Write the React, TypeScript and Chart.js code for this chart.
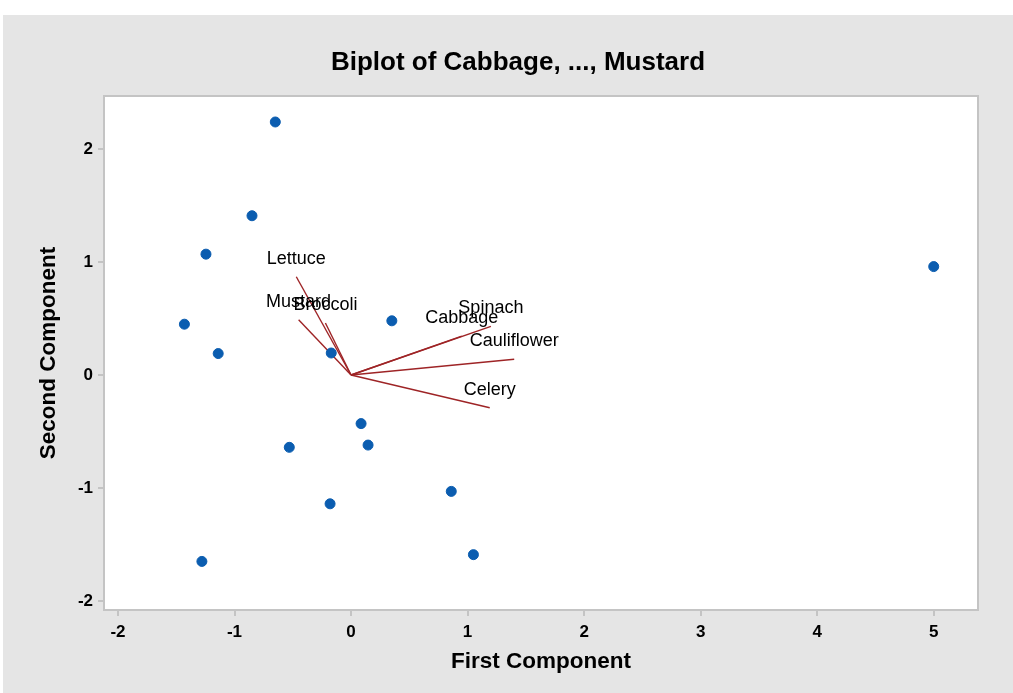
import React, { useEffect, useRef } from "react";
import { Chart, registerables } from "chart.js";

Chart.register(...registerables);

const TITLE = "Biplot of Cabbage, ..., Mustard";
const X_TITLE = "First Component";
const Y_TITLE = "Second Component";

const X_TICKS = [-2, -1, 0, 1, 2, 3, 4, 5];
const Y_TICKS = [-2, -1, 0, 1, 2];

// Observation scores
const SCORE_X = [-0.65, -0.85, -1.245, -1.43, -1.14, -0.17, 0.35, 0.086, 0.146, -0.53, -0.18, 0.86, 1.05, -1.28, 5.0];
const SCORE_Y = [2.24, 1.41, 1.07, 0.45, 0.19, 0.195, 0.48, -0.43, -0.62, -0.64, -1.14, -1.03, -1.59, -1.65, 0.96];

// Variable loadings (vectors)
const VAR_NAMES = ["Lettuce", "Mustard", "Broccoli", "Spinach", "Cabbage", "Cauliflower", "Celery"];
const VAR_X = [-0.47, -0.45, -0.22, 1.2, 0.95, 1.4, 1.19];
const VAR_Y = [0.87, 0.49, 0.46, 0.43, 0.345, 0.14, -0.29];

const FONT = "'Liberation Sans', Arial, Helvetica, sans-serif";

export default function App() {
  const ref = useRef<HTMLCanvasElement | null>(null);

  useEffect(() => {
    if (!ref.current) return;

    const points = SCORE_X.map((x, i) => ({ x, y: SCORE_Y[i] }));
    const vectorSets = VAR_NAMES.map((name, i) => ({
      type: "line" as const,
      label: name,
      data: [
        { x: 0, y: 0 },
        { x: VAR_X[i], y: VAR_Y[i] },
      ],
      borderColor: "#9e2426",
      borderWidth: 1.4,
      pointRadius: 0,
      fill: false,
      showLine: true,
      order: 2,
    }));

    const bgPlugin = {
      id: "plotBg",
      beforeDraw(chart: any) {
        const { ctx, chartArea } = chart;
        ctx.save();
        ctx.fillStyle = "#ffffff";
        ctx.fillRect(chartArea.left, chartArea.top, chartArea.right - chartArea.left, chartArea.bottom - chartArea.top);
        ctx.restore();
      },
      afterDraw(chart: any) {
        const { ctx, chartArea } = chart;
        ctx.save();
        ctx.strokeStyle = "#c4c4c4";
        ctx.lineWidth = 2;
        ctx.strokeRect(chartArea.left, chartArea.top, chartArea.right - chartArea.left, chartArea.bottom - chartArea.top);
        // title
        ctx.fillStyle = "#000";
        ctx.font = `bold 26px ${FONT}`;
        ctx.textAlign = "center";
        ctx.textBaseline = "middle";
        ctx.fillText(TITLE, 515, 48);
        ctx.restore();
      },
    };

    const labelPlugin = {
      id: "vecLabels",
      afterDatasetsDraw(chart: any) {
        const { ctx, scales } = chart;
        ctx.save();
        ctx.fillStyle = "#000";
        ctx.font = `18px ${FONT}`;
        ctx.textAlign = "center";
        ctx.textBaseline = "middle";
        VAR_NAMES.forEach((name, i) => {
          const px = scales.x.getPixelForValue(VAR_X[i]);
          const py = scales.y.getPixelForValue(VAR_Y[i]);
          ctx.fillText(name, px, py - 18);
        });
        ctx.restore();
      },
    };

    const chart = new Chart(ref.current, {
      type: "scatter",
      data: {
        datasets: [
          {
            label: "Scores",
            data: points,
            backgroundColor: "#0b5db0",
            borderColor: "#0b5db0",
            pointRadius: 5,
            pointHoverRadius: 5,
            order: 1,
          } as any,
          ...vectorSets,
        ],
      },
      options: {
        animation: false,
        responsive: false,
        maintainAspectRatio: false,
        layout: { padding: { top: 81, right: 35, bottom: 0, left: 0 } },
        plugins: {
          legend: { display: false },
          tooltip: { enabled: false },
          title: { display: false },
        },
        scales: {
          x: {
            type: "linear",
            min: -2.12,
            max: 5.38,
            afterFit(scale: any) {
              scale.height = 83;
            },
            afterBuildTicks(scale: any) {
              scale.ticks = X_TICKS.map((v) => ({ value: v }));
            },
            grid: {
              display: true,
              drawOnChartArea: false,
              drawTicks: true,
              tickLength: 6,
              color: "#c4c4c4",
              lineWidth: 2,
            },
            border: { display: false },
            ticks: {
              color: "#000",
              font: { family: FONT, size: 17, weight: "bold" },
              padding: 6,
              callback: (v: any) => String(v),
            },
            title: {
              display: true,
              text: X_TITLE,
              color: "#000",
              font: { family: FONT, size: 22.5, weight: "bold" },
              padding: { top: 0, bottom: 18 },
            },
          },
          y: {
            type: "linear",
            min: -2.08,
            max: 2.47,
            afterFit(scale: any) {
              scale.width = 101;
            },
            afterBuildTicks(scale: any) {
              scale.ticks = Y_TICKS.map((v) => ({ value: v }));
            },
            grid: {
              display: true,
              drawOnChartArea: false,
              drawTicks: true,
              tickLength: 6,
              color: "#c4c4c4",
              lineWidth: 2,
            },
            border: { display: false },
            ticks: {
              color: "#000",
              font: { family: FONT, size: 17, weight: "bold" },
              padding: 5,
              callback: (v: any) => String(v),
            },
            title: {
              display: true,
              text: Y_TITLE,
              color: "#000",
              font: { family: FONT, size: 22.5, weight: "bold" },
              padding: { top: 32, bottom: 0 },
            },
          },
        },
      } as any,
      plugins: [bgPlugin, labelPlugin],
    });

    return () => chart.destroy();
  }, []);

  return (
    <div style={{ position: "fixed", left: 0, top: 0, width: 1013, height: 693, background: "#ffffff" }}>
      <div style={{ position: "absolute", left: 3, top: 15, width: 1010, height: 678, background: "#e5e5e5" }}>
        <canvas ref={ref} width={1010} height={678} style={{ display: "block", width: 1010, height: 678 }} />
      </div>
    </div>
  );
}
